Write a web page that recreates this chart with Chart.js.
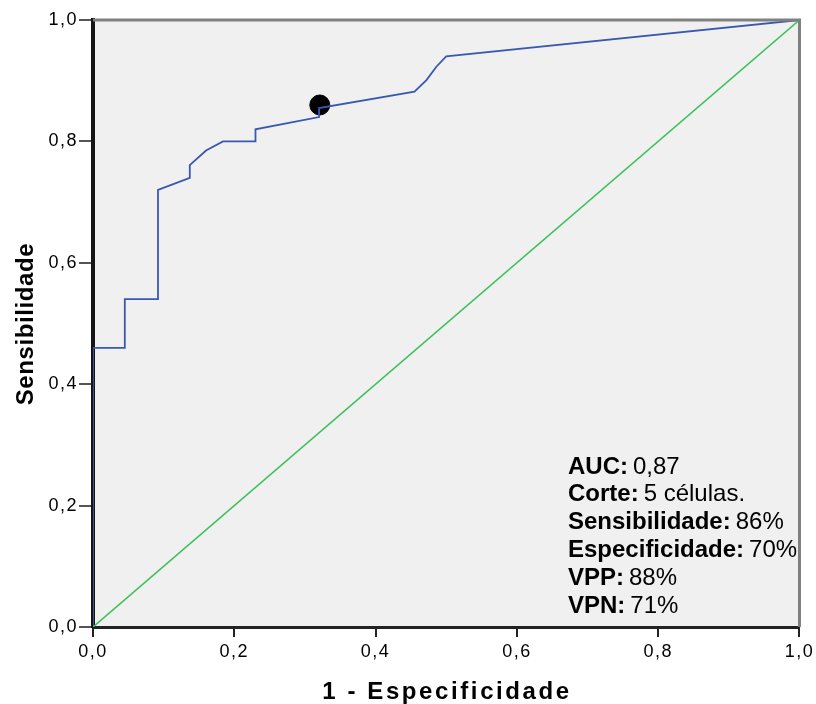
<!DOCTYPE html>
<html>
<head>
<meta charset="utf-8">
<script src="https://cdn.jsdelivr.net/npm/chart.js@4/dist/chart.umd.min.js"></script>
<style>
   html, body { margin: 0; padding: 0; background: #ffffff; }
   #wrap { width: 816px; height: 704px; }
</style>
</head>
<body>
<div id="wrap"><canvas id="rocChart" width="816" height="704"></canvas></div>
<script>
// Data
// ----------------------------------------------
const rocX = [0, 0, 0.045, 0.045, 0.092, 0.092, 0.137, 0.137, 0.16, 0.184, 0.23, 0.23, 0.32, 0.32, 0.455, 0.472, 0.486, 0.50, 1];
const rocY = [0, 0.46, 0.46, 0.54, 0.54, 0.72, 0.74, 0.761, 0.785, 0.80, 0.80, 0.82, 0.84, 0.855, 0.882, 0.901, 0.923, 0.94, 1];
const refX = [0, 1];
const refY = [0, 1];
const cutX = [0.321];
const cutY = [0.86];
const tickValues = [0, 0.2, 0.4, 0.6, 0.8, 1];
const xTitle = "1 - Especificidade";
const yTitle = "Sensibilidade";
const statLabels = ["AUC:", "Corte:", "Sensibilidade:", "Especificidade:", "VPP:", "VPN:"];
const statValues = ["0,87", "5 células.", "86%", "70%", "88%", "71%"];

const FONT = "'Liberation Sans', Arial, sans-serif";
const toPoints = (xs, ys) => xs.map((x, i) => ({ x: x, y: ys[i] }));
const fmtTick = v => v.toFixed(1).replace(".", ",");

// Plot background, top/right frame, letter spacing for tick labels
// ----------------------------------------------
const framePlugin = {
   id: "frame",
   beforeDraw(chart) {
      const a = chart.chartArea, ctx = chart.ctx;
      ctx.fillStyle = "#f0f0f0";
      ctx.fillRect(a.left, a.top, a.right - a.left, a.bottom - a.top);
      ctx.letterSpacing = "1.5px";
   },
   beforeDatasetsDraw(chart) {
      chart.ctx.letterSpacing = "0px";
   },
   afterDatasetsDraw(chart) {
      const a = chart.chartArea, ctx = chart.ctx;
      ctx.save();
      ctx.strokeStyle = "#808080";
      ctx.lineWidth = 3;
      ctx.beginPath();
      ctx.moveTo(a.left, a.top);
      ctx.lineTo(a.right, a.top);
      ctx.lineTo(a.right, a.bottom);
      ctx.stroke();
      ctx.restore();
   }
};

// Axis titles and stats text box
// ----------------------------------------------
const textPlugin = {
   id: "texts",
   afterDraw(chart) {
      const ctx = chart.ctx;
      ctx.save();
      ctx.fillStyle = "#000";

      // axis titles
      ctx.font = "bold 24px " + FONT;
      ctx.textBaseline = "alphabetic";
      ctx.textAlign = "center";
      ctx.letterSpacing = "2.6px";
      ctx.fillText(xTitle, 447, 699);
      ctx.save();
      ctx.translate(33, 324);
      ctx.rotate(-Math.PI / 2);
      ctx.letterSpacing = "0.6px";
      ctx.fillText(yTitle, 0, 0);
      ctx.restore();

      // stats
      ctx.letterSpacing = "0px";
      ctx.textAlign = "left";
      ctx.textBaseline = "middle";
      const x0 = 568, y0 = 467, lh = 27.8;
      statLabels.forEach((lab, i) => {
         const y = y0 + i * lh;
         ctx.font = "bold 24px " + FONT;
         ctx.fillText(lab, x0, y);
         const w = ctx.measureText(lab).width;
         ctx.font = "24px " + FONT;
         ctx.fillText(statValues[i], x0 + w + 5, y);
      });
      ctx.restore();
   }
};

document.addEventListener("DOMContentLoaded", () => {

   new Chart(document.getElementById("rocChart"), {
      type: "scatter",
      data: {
         datasets: [
            {
               label: "Referencia",
               data: toPoints(refX, refY),
               showLine: true,
               borderColor: "#3cc05a",
               borderWidth: 1.6,
               pointRadius: 0
            },
            {
               label: "ROC",
               data: toPoints(rocX, rocY),
               showLine: true,
               borderColor: "#3a58b0",
               borderWidth: 1.8,
               pointRadius: 0,
               tension: 0
            },
            {
               label: "Corte",
               data: toPoints(cutX, cutY),
               backgroundColor: "#000",
               borderColor: "#000",
               pointRadius: 10
            }
         ]
      },
      options: {
         responsive: false,
         animation: false,
         layout: { padding: { top: 20, right: 16, left: 0, bottom: 0 } },
         plugins: {
            legend: { display: false },
            tooltip: { enabled: false }
         },
         scales: {
            x: {
               type: "linear",
               min: 0,
               max: 1,
               afterBuildTicks: s => { s.ticks = tickValues.map(v => ({ value: v })); },
               afterFit: s => { s.height = 77; },
               grid: {
                  drawOnChartArea: false,
                  drawTicks: true,
                  tickLength: 10,
                  color: "#222",
                  lineWidth: 2
               },
               border: { color: "#222", width: 3 },
               ticks: {
                  color: "#000",
                  padding: 4,
                  maxRotation: 0,
                  font: { family: FONT, size: 18 },
                  callback: v => fmtTick(v)
               }
            },
            y: {
               type: "linear",
               min: 0,
               max: 1,
               afterBuildTicks: s => { s.ticks = tickValues.map(v => ({ value: v })); },
               afterFit: s => { s.width = 93; },
               grid: {
                  drawOnChartArea: false,
                  drawTicks: true,
                  tickLength: 14,
                  color: "#555",
                  lineWidth: 2
               },
               border: { color: "#151515", width: 4 },
               ticks: {
                  color: "#000",
                  padding: 1,
                  font: { family: FONT, size: 18 },
                  callback: v => fmtTick(v)
               }
            }
         }
      },
      plugins: [framePlugin, textPlugin]
   });

});
</script>
</body>
</html>
